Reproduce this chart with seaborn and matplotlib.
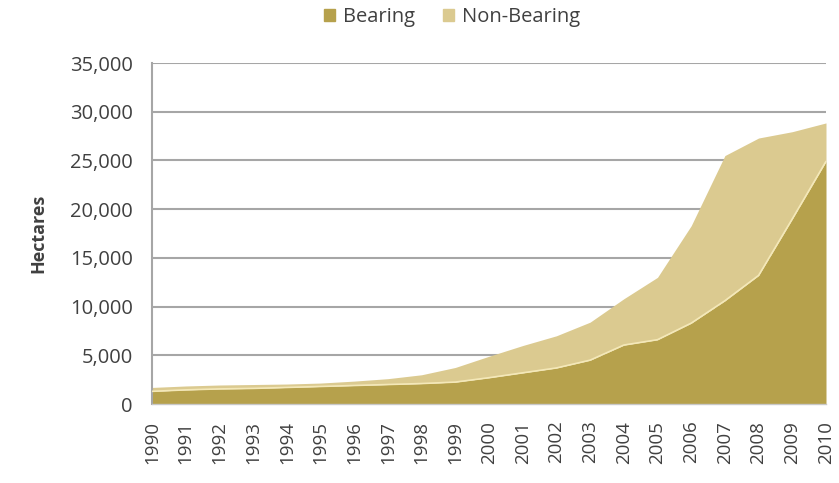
import numpy as np
import pandas as pd
import matplotlib
matplotlib.use("Agg")
import matplotlib.pyplot as plt
import seaborn as sns
from matplotlib.ticker import FuncFormatter
from matplotlib.patches import Patch

years = list(range(1990, 2011))
bearing = [1300, 1450, 1550, 1600, 1700, 1800, 1900, 2000, 2100, 2250, 2700,
           3200, 3700, 4500, 6050, 6600, 8300, 10600, 13200, 19000, 24900]
non_bearing_total = [1700, 1850, 1950, 2000, 2050, 2150, 2350, 2600, 3000, 3750, 4900,
                     6000, 7000, 8400, 10800, 13000, 18300, 25500, 27300, 27950, 28850]
non_bearing = [t - b for t, b in zip(non_bearing_total, bearing)]
series_names = ["Bearing", "Non-Bearing"]
y_ticks = [0, 5000, 10000, 15000, 20000, 25000, 30000, 35000]

df = pd.DataFrame({"Year": years, "Bearing": bearing, "Non-Bearing": non_bearing})
df["Total"] = df["Bearing"] + df["Non-Bearing"]

sns.set_style("white")
plt.rcParams["font.family"] = ["Open Sans", "DejaVu Sans"]

c_bear = "#B6A14C"
c_non = "#DBCA90"
c_line = "#F4E8B8"

fig = plt.figure(figsize=(8.39, 4.83), dpi=100)
ax = fig.add_axes([152/839, 1 - 404/483, (826-152)/839, (404-63)/483])

ax.fill_between(df["Year"], 0, df["Bearing"], color=c_bear, linewidth=0, zorder=2)
ax.fill_between(df["Year"], df["Bearing"], df["Total"], color=c_non, linewidth=0, zorder=2)
sns.lineplot(data=df, x="Year", y="Bearing", ax=ax, color=c_line, linewidth=1.2, zorder=3)

ax.set_xlim(1990, 2010)
ax.set_ylim(0, 35000)
ax.set_yticks(y_ticks)
ax.yaxis.set_major_formatter(FuncFormatter(lambda v, p: f"{int(v):,}"))
ax.set_xticks(years)
ax.set_xticklabels([str(y) for y in years], rotation=90)
ax.grid(axis="y", color="#A6A6A6", linewidth=1.5, zorder=1)
ax.set_axisbelow(True)
for s in ["top", "right"]:
    ax.spines[s].set_visible(False)
ax.spines["left"].set_color("#A6A6A6")
ax.spines["left"].set_linewidth(1.5)
ax.spines["bottom"].set_color("#C8C8C8")
ax.spines["bottom"].set_linewidth(1.0)
ax.tick_params(axis="y", labelsize=14.5, labelcolor="#404040", length=0, pad=14)
ax.tick_params(axis="x", labelsize=13.5, labelcolor="#404040", length=0, pad=12)
ax.set_xlabel("")
ax.set_ylabel("Hectares", fontsize=13, fontweight="bold", color="#404040", labelpad=16)

handles = [Patch(color=c_bear), Patch(color=c_non)]
fig.legend(handles, series_names, loc="center", bbox_to_anchor=(452/839, 1 - 17/483),
           ncol=2, frameon=False, fontsize=14.5, handlelength=0.55, handleheight=0.55,
           handletextpad=0.4, columnspacing=1.4, labelcolor="#404040")

fig.savefig("out.png", dpi=100)
